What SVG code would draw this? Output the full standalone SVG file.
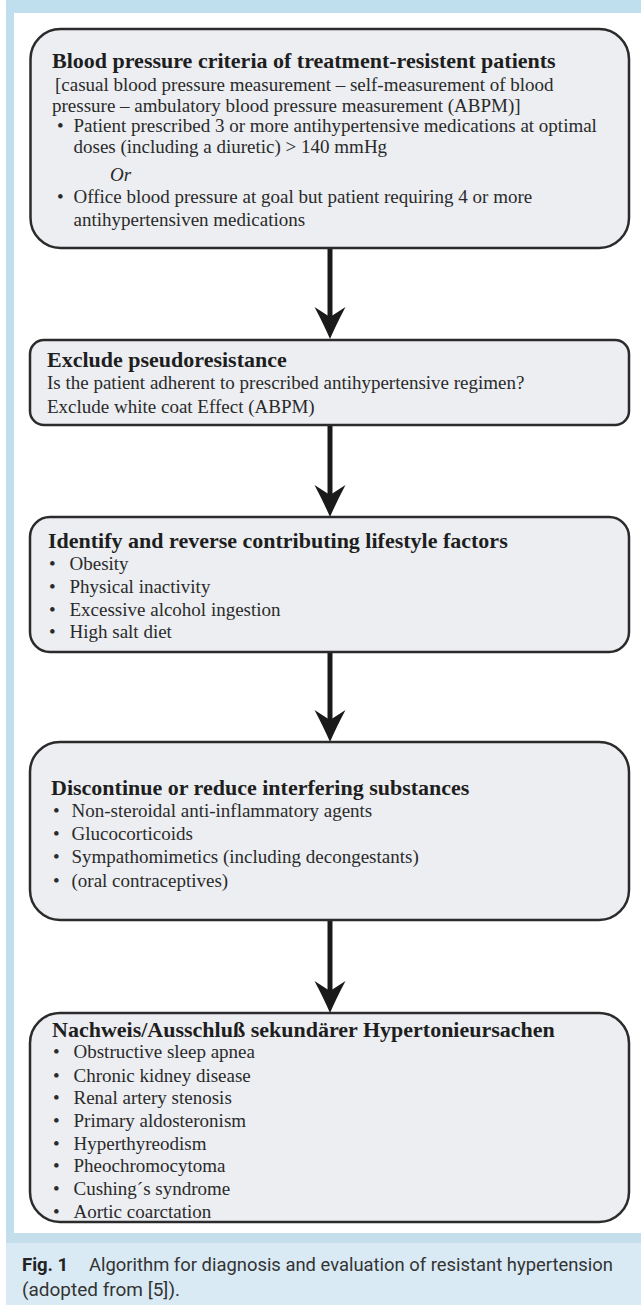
<svg xmlns="http://www.w3.org/2000/svg" width="641" height="1305" viewBox="0 0 641 1305">
<style>
.box{fill:#eceef2;stroke:#2b2b2b;stroke-width:2.5}
.t{font-family:"Liberation Serif","Times New Roman",serif;font-weight:bold;font-size:22px;fill:#1e1e1e}
.b{font-family:"Liberation Serif","Times New Roman",serif;font-size:19px;fill:#2a2a2a}
.i{font-style:italic}
.cap{font-family:Roboto,"Noto Sans",sans-serif;font-size:18.5px;fill:#333}
.capb{font-weight:bold;fill:#222}
.ln{stroke:#1a1a1a;stroke-width:5;fill:none}
.hd{fill:#1a1a1a}
</style>
<defs>
<path id="head" d="M0,0 Q-6,-14 -15.5,-32 L0,-22 L15.5,-32 Q6,-14 0,0 Z"/>
</defs>
<rect x="0" y="0" width="641" height="1305" fill="#ffffff"/>
<g id="frame">
<rect x="6" y="0" width="635" height="13" fill="#bfdeee"/>
<rect x="6" y="0" width="8" height="1233" fill="#bfdeee"/>
<rect x="6" y="1233" width="635" height="10" fill="#c4deec"/>
<rect x="6" y="1243" width="635" height="62" fill="#d9eaf4"/>
</g>
<g id="connectors">
<line class="ln" x1="330" y1="248" x2="330" y2="318"/>
<use href="#head" class="hd" transform="translate(330,339)"/>
<line class="ln" x1="330" y1="425" x2="330" y2="496"/>
<use href="#head" class="hd" transform="translate(330,517)"/>
<line class="ln" x1="330" y1="652" x2="330" y2="721"/>
<use href="#head" class="hd" transform="translate(330,742)"/>
<line class="ln" x1="330" y1="920" x2="330" y2="992"/>
<use href="#head" class="hd" transform="translate(330,1013)"/>
</g>
<g id="node1">
<rect class="box" x="30.5" y="29" width="598.5" height="219" rx="30"/>
<text class="t" x="52" y="68">Blood pressure criteria of treatment-resistent patients</text>
<text class="b" x="55" y="91">[casual blood pressure measurement – self-measurement of blood</text>
<text class="b" x="52" y="112">pressure – ambulatory blood pressure measurement (ABPM)]</text>
<text class="b" x="57" y="132">•</text>
<text class="b" x="73.5" y="132">Patient prescribed 3 or more antihypertensive medications at optimal</text>
<text class="b" x="73.5" y="153">doses (including a diuretic) &gt; 140 mmHg</text>
<text class="b i" x="110" y="181">Or</text>
<text class="b" x="57" y="203">•</text>
<text class="b" x="73.5" y="203">Office blood pressure at goal but patient requiring 4 or more</text>
<text class="b" x="73.5" y="226">antihypertensiven medications</text>
</g>
<g id="node2">
<rect class="box" x="30" y="340" width="599" height="85" rx="14"/>
<text class="t" x="47" y="367">Exclude pseudoresistance</text>
<text class="b" x="47" y="389">Is the patient adherent to prescribed antihypertensive regimen?</text>
<text class="b" x="47" y="413">Exclude white coat Effect (ABPM)</text>
</g>
<g id="node3">
<rect class="box" x="30" y="517" width="599" height="135" rx="20"/>
<text class="t" x="48" y="548">Identify and reverse contributing lifestyle factors</text>
<text class="b" x="49" y="570">•</text><text class="b" x="69.5" y="570">Obesity</text>
<text class="b" x="49" y="593">•</text><text class="b" x="69.5" y="593">Physical inactivity</text>
<text class="b" x="49" y="616">•</text><text class="b" x="69.5" y="616">Excessive alcohol ingestion</text>
<text class="b" x="49" y="638">•</text><text class="b" x="69.5" y="638">High salt diet</text>
</g>
<g id="node4">
<rect class="box" x="30" y="742" width="599" height="178" rx="30"/>
<text class="t" x="51" y="795">Discontinue or reduce interfering substances</text>
<text class="b" x="53" y="817">•</text><text class="b" x="71.5" y="817">Non-steroidal anti-inflammatory agents</text>
<text class="b" x="53" y="840">•</text><text class="b" x="71.5" y="840">Glucocorticoids</text>
<text class="b" x="53" y="863">•</text><text class="b" x="71.5" y="863">Sympathomimetics (including decongestants)</text>
<text class="b" x="53" y="887">•</text><text class="b" x="71.5" y="887">(oral contraceptives)</text>
</g>
<g id="node5">
<rect class="box" x="30" y="1013" width="599" height="209" rx="30"/>
<text class="t" x="52" y="1037">Nachweis/Ausschluß sekundärer Hypertonieursachen</text>
<text class="b" x="53" y="1058">•</text><text class="b" x="73.5" y="1058">Obstructive sleep apnea</text>
<text class="b" x="53" y="1082">•</text><text class="b" x="73.5" y="1082">Chronic kidney disease</text>
<text class="b" x="53" y="1104">•</text><text class="b" x="73.5" y="1104">Renal artery stenosis</text>
<text class="b" x="53" y="1127">•</text><text class="b" x="73.5" y="1127">Primary aldosteronism</text>
<text class="b" x="53" y="1150">•</text><text class="b" x="73.5" y="1150">Hyperthyreodism</text>
<text class="b" x="53" y="1172">•</text><text class="b" x="73.5" y="1172">Pheochromocytoma</text>
<text class="b" x="53" y="1195">•</text><text class="b" x="73.5" y="1195">Cushing´s syndrome</text>
<text class="b" x="53" y="1218">•</text><text class="b" x="73.5" y="1218">Aortic coarctation</text>
</g>
<g id="caption">
<text class="cap capb" x="22" y="1271">Fig. 1</text>
<text class="cap" x="89" y="1271" textLength="524" lengthAdjust="spacingAndGlyphs">Algorithm for diagnosis and evaluation of resistant hypertension</text>
<text class="cap" x="22" y="1296" textLength="158" lengthAdjust="spacingAndGlyphs">(adopted from [5]).</text>
</g>
</svg>
